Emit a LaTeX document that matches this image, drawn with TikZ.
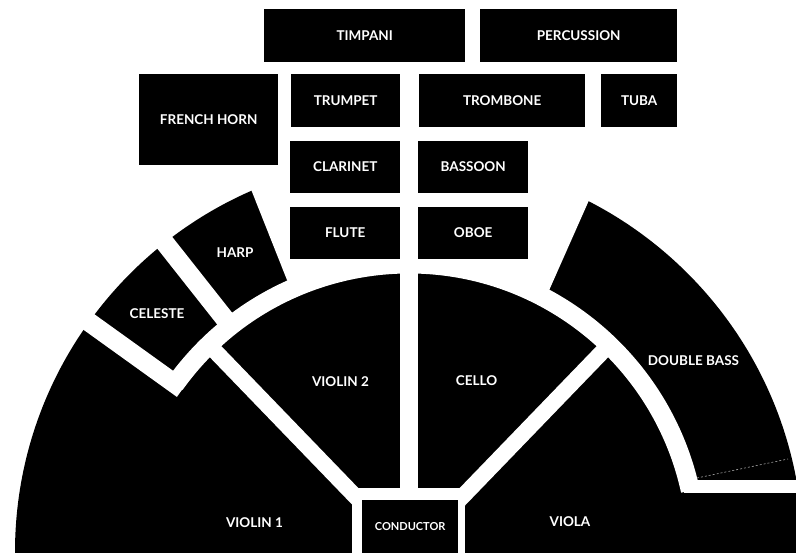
\documentclass[tikz,border=0pt]{standalone}
\usepackage{fontspec}
\setmainfont{Lato}
\tikzset{
  seat/.style={fill=black, text=white, inner sep=0pt, anchor=south west,
    font=\bfseries\fontsize{13.5}{15}\selectfont},
  part/.style={text=white, inner sep=0pt, font=\bfseries\fontsize{13.5}{15}\selectfont},
  podium/.style={seat, font=\bfseries\fontsize{11}{13}\selectfont},
  gap/.style={white, line width=18pt},
}
\begin{document}
\begin{tikzpicture}[x=1pt, y=1pt]
  \useasboundingbox (0,0) rectangle (796,553);
  \fill[white] (0,0) rectangle (796,553);
  \clip (0,0) rectangle (796,553);
  \coordinate (C) at (409,1);

  % strings, celeste, harp and basses: one half disk cut up by white gaps
  \begin{scope}[shift={(C)}]
    \fill (-394,-5) -- (-394,0) arc[start angle=180, end angle=0, radius=394] -- (394,-5) -- cycle;
    % open space between harp and double bass
    \fill[white] (-122,272) -- (-199,466) -- (216,433) -- (138,257) -- (62:285)
      arc[start angle=62, end angle=114, radius=285] -- cycle;
    \draw[gap, line width=19pt] (144.4:288) arc[start angle=144.4, end angle=12.3, radius=288];
    \draw[gap, line width=13pt] (275,65.5) -- (400,65.5);
    \draw[gap, line width=19pt] (144.3:279) -- (144.3:420);
    \draw[gap, line width=19pt] (128.3:288) -- (128.3:420);
    \draw[gap, line width=16pt] (134:0) -- (134:288);
    \draw[gap, line width=16pt] (46:0) -- (46:288);
    \draw[gap] (0,59) -- (0,300);
    \fill[white] (-57,-5) rectangle (56,64);
  \end{scope}
  \draw[gray!70, line width=0.6pt, dash pattern=on 2pt off 2pt] (697,75) -- (788,94);

  \node[part] (violinone) at (254.5,30.5) {VIOLIN 1};
  \node[part] (violintwo) at (340.5,171.5) {VIOLIN 2};
  \node[part] (cello) at (476.5,172) {CELLO};
  \node[part] (viola) at (570,31) {VIOLA};
  \node[part] (doublebass) at (693.5,192.5) {DOUBLE BASS};
  \node[part] (celeste) at (157,239) {CELESTE};
  \node[part] (harp) at (235,300) {HARP};

  % winds, brass and percussion
  \node[seat, minimum width=201pt, minimum height=53pt] (timpani) at (264,491) {TIMPANI};
  \node[seat, minimum width=197pt, minimum height=53pt] (percussion) at (480,491) {PERCUSSION};
  \node[seat, minimum width=139pt, minimum height=91pt] (frenchhorn) at (139,388) {FRENCH HORN};
  \node[seat, minimum width=109pt, minimum height=53pt] (trumpet) at (291,426) {TRUMPET};
  \node[seat, minimum width=166pt, minimum height=53pt] (trombone) at (419,426) {TROMBONE};
  \node[seat, minimum width=76pt, minimum height=53pt] (tuba) at (601,426) {TUBA};
  \node[seat, minimum width=110pt, minimum height=52pt] (clarinet) at (290,360) {CLARINET};
  \node[seat, minimum width=110pt, minimum height=52pt] (bassoon) at (418,360) {BASSOON};
  \node[seat, minimum width=110pt, minimum height=52pt] (flute) at (290,294) {FLUTE};
  \node[seat, minimum width=110pt, minimum height=52pt] (oboe) at (418,294) {OBOE};

  \node[podium, minimum width=96pt, minimum height=53pt] (conductor) at (362,0) {CONDUCTOR};
\end{tikzpicture}
\end{document}
